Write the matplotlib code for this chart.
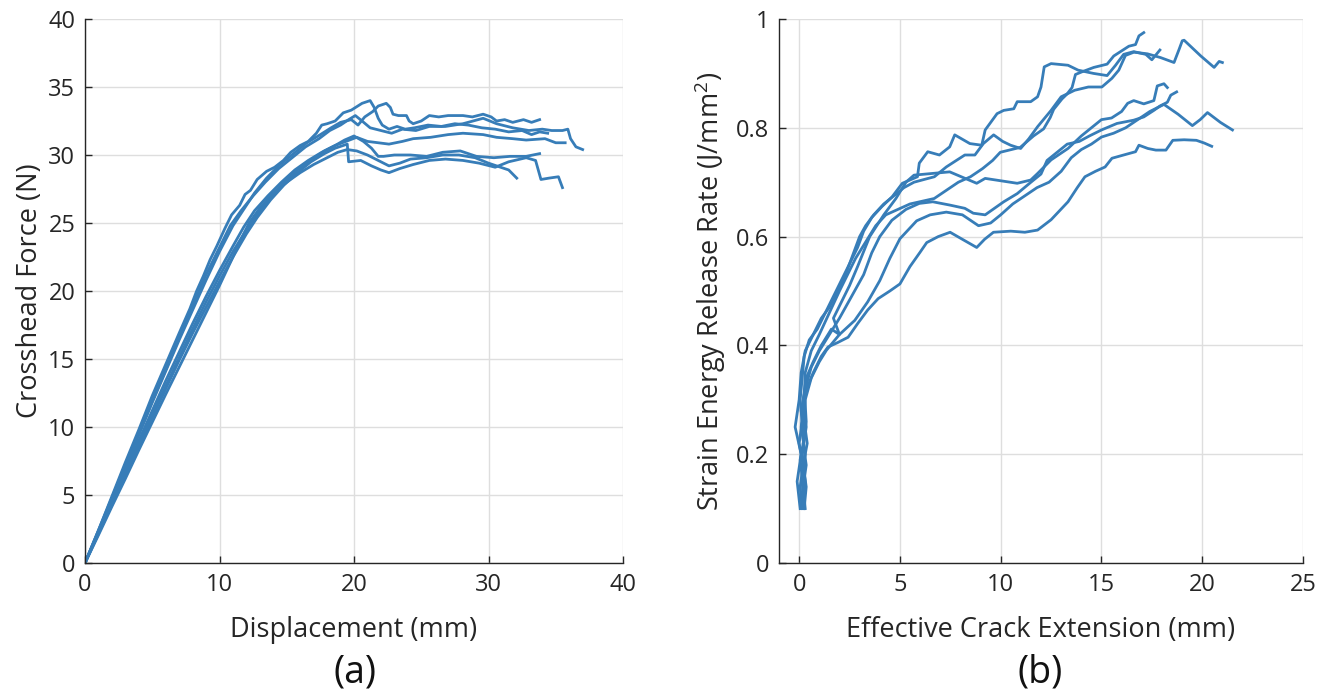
"""
Fracture test results, two panels
  (a) crosshead force vs displacement
  (b) strain energy release rate vs effective crack extension (R-curves)
"""
import matplotlib
matplotlib.use("Agg")
import matplotlib.pyplot as plt
import numpy as np

C_LINE = "#377DB8"
C_GRID = "#dedede"
C_AXIS = "#262626"

# ---- (a) force / displacement, one list of (mm, N) per specimen ----------
fd_s1 = [(0, 0), (1, 2.4), (2, 4.9), (3, 7.4), (4, 9.8), (5, 12.3), (6, 14.6), (7, 16.9),
         (7.8, 18.7), (8.3, 20.0), (8.8, 21.1), (9.3, 22.3), (9.8, 23.3), (10.4, 24.6),
         (10.9, 25.6), (11.5, 26.3), (11.9, 27.1), (12.3, 27.4), (12.8, 28.2), (13.5, 28.8),
         (14.1, 29.1), (14.75, 29.6), (15.3, 30.2), (16.0, 30.7), (16.6, 31.0), (17.2, 31.6),
         (17.6, 32.2), (18.0, 32.3), (18.6, 32.5), (19.2, 33.1), (19.8, 33.3), (20.6, 33.8),
         (21.2, 34.0), (21.5, 33.5), (21.8, 32.7), (22.1, 32.2), (22.6, 31.9), (23.2, 32.1),
         (23.8, 31.9), (24.5, 32.0), (25.5, 32.2), (26.5, 32.1), (27.5, 32.3), (28.5, 32.2),
         (29.5, 32.0), (30.5, 31.9), (31.5, 31.7), (32.5, 31.8), (33.2, 31.5), (33.8, 31.7),
         (34.4, 31.6)]
fd_s2 = [(0, 0), (1, 2.35), (2, 4.7), (3, 7.1), (4, 9.4), (5, 11.8), (6, 14.1), (7, 16.4),
         (8, 18.6), (9, 20.8), (10, 22.9), (11, 24.8), (11.8, 26.0), (12.6, 27.2), (13.5, 28.3),
         (14.5, 29.3), (15.5, 30.1), (16.5, 30.9), (17.5, 31.5), (18.3, 32.0), (19.0, 32.4),
         (19.8, 32.6), (20.3, 32.2), (20.8, 32.8), (21.4, 33.2), (21.8, 33.6), (22.4, 33.8),
         (22.7, 33.5), (22.9, 33.0), (23.3, 32.9), (23.9, 32.9), (24.1, 32.5), (24.4, 32.3),
         (25.0, 32.5), (25.6, 32.9), (26.3, 32.8), (27.0, 32.9), (28.1, 32.9), (28.8, 32.8),
         (29.6, 33.0), (30.2, 32.8), (30.6, 32.5), (31.2, 32.6), (31.8, 32.4), (32.6, 32.6),
         (33.2, 32.4), (33.8, 32.6)]
fd_s3 = [(0, 0), (1, 2.4), (2, 4.8), (3, 7.2), (4, 9.5), (5, 11.9), (6, 14.2), (7, 16.6),
         (8, 18.9), (9, 21.2), (10, 23.2), (10.8, 24.8), (11.6, 25.9), (12.5, 27.0), (13.4, 28.0),
         (14.4, 29.0), (15.4, 29.8), (16.4, 30.6), (17.4, 31.2), (18.2, 31.8), (19.0, 32.2),
         (19.6, 32.6), (20.1, 32.9), (20.6, 32.5), (21.2, 32.0), (22.0, 31.8), (22.8, 31.6),
         (23.6, 31.9), (24.6, 31.8), (25.6, 32.1), (26.8, 32.1), (28.1, 32.3), (29.6, 32.7),
         (30.6, 32.3), (31.8, 32.0), (33.0, 31.8), (34.0, 31.9), (34.7, 31.8), (35.5, 31.8),
         (35.9, 31.9), (36.1, 31.2), (36.5, 30.6), (37.0, 30.4)]
fd_s4 = [(0, 0), (1, 2.25), (2, 4.5), (3, 6.8), (4, 9.0), (5, 11.2), (6, 13.4), (7, 15.5),
         (8, 17.6), (9, 19.6), (10, 21.5), (11, 23.3), (11.8, 24.7), (12.6, 25.9), (13.6, 27.0),
         (14.6, 28.0), (15.6, 28.9), (16.6, 29.6), (17.6, 30.2), (18.6, 30.7), (19.4, 31.0),
         (20.2, 31.3), (21.0, 31.0), (21.8, 30.9), (22.6, 30.8), (23.6, 31.0), (24.4, 31.2),
         (25.7, 31.3), (27.0, 31.5), (28.1, 31.6), (29.6, 31.5), (30.6, 31.3), (31.8, 31.2),
         (32.8, 31.1), (34.2, 31.2), (35.0, 30.9), (35.7, 30.9)]
fd_s5 = [(0, 0), (1, 2.2), (2, 4.4), (3, 6.6), (4, 8.8), (5, 10.9), (6, 13.0), (7, 15.1),
         (8, 17.2), (9, 19.2), (10, 21.1), (11, 22.9), (12, 24.5), (12.8, 25.6), (13.8, 26.9),
         (14.8, 28.0), (15.8, 28.9), (16.8, 29.6), (17.8, 30.3), (18.6, 30.7), (19.3, 31.1),
         (20.0, 31.4), (20.7, 31.0), (21.3, 30.5), (21.8, 29.9), (22.2, 29.9), (23.0, 30.0),
         (24.2, 30.0), (25.4, 29.9), (26.6, 30.2), (27.9, 30.3), (29.1, 29.9), (30.4, 29.8),
         (31.6, 29.9), (32.8, 29.9), (33.8, 30.1)]
fd_s6 = [(0, 0), (1, 2.15), (2, 4.3), (3, 6.45), (4, 8.6), (5, 10.7), (6, 12.8), (7, 14.9),
         (8, 16.9), (9, 18.8), (10, 20.7), (11, 22.5), (12, 24.2), (12.8, 25.4), (13.8, 26.7),
         (14.8, 27.8), (15.8, 28.7), (16.8, 29.5), (17.8, 30.1), (18.6, 30.5), (19.5, 30.8),
         (19.6, 29.5), (20.5, 29.6), (21.3, 29.2), (22.0, 28.9), (22.6, 28.7), (23.4, 29.0),
         (24.4, 29.3), (25.6, 29.6), (26.8, 29.7), (28.1, 29.6), (29.3, 29.4), (30.5, 29.1),
         (31.5, 29.5), (32.8, 29.8), (33.5, 29.6), (33.9, 28.2), (34.5, 28.3), (35.2, 28.4),
         (35.5, 27.6)]
fd_s7 = [(0, 0), (1, 2.05), (2, 4.15), (3, 6.2), (4, 8.3), (5, 10.35), (6, 12.4), (7, 14.4),
         (8, 16.4), (9, 18.4), (10, 20.4), (11, 22.5), (11.6, 23.8), (12.2, 25.0), (13.0, 26.1),
         (14.0, 27.2), (15.0, 28.0), (16.0, 28.7), (17.0, 29.3), (18.0, 29.8), (18.8, 30.2),
         (19.5, 30.4), (20.2, 30.3), (21.0, 30.0), (21.8, 29.6), (22.6, 29.2), (23.4, 29.4),
         (24.2, 29.7), (25.4, 29.8), (26.6, 30.0), (27.8, 30.0), (29.0, 29.8), (30.0, 29.4),
         (30.9, 29.1), (31.5, 28.9), (32.1, 28.3)]
FORCE_CURVES = [fd_s1, fd_s2, fd_s3, fd_s4, fd_s5, fd_s6, fd_s7]

# ---- (b) R-curves, one list of (crack ext. mm, G J/mm^2) per specimen -----
rc_s1 = [(0.15, 0.10), (0.05, 0.14), (0.2, 0.18), (0.0, 0.22), (0.15, 0.26), (0.05, 0.30),
         (0.15, 0.34), (0.25, 0.38), (0.5, 0.41), (0.9, 0.43), (1.3, 0.46), (1.7, 0.49),
         (2.1, 0.52), (2.5, 0.55), (2.9, 0.58), (3.2, 0.61), (3.6, 0.635), (4.1, 0.655),
         (4.61, 0.673), (5.12, 0.698), (5.87, 0.71), (5.96, 0.735), (6.38, 0.756), (6.96, 0.75),
         (7.47, 0.765), (7.72, 0.787), (8.47, 0.771), (9.06, 0.768), (9.23, 0.796), (9.82, 0.826),
         (10.15, 0.832), (10.65, 0.835), (10.82, 0.848), (11.49, 0.848), (11.83, 0.857),
         (12.0, 0.875), (12.16, 0.912), (12.5, 0.918), (13.34, 0.915), (13.84, 0.906),
         (14.6, 0.90), (15.28, 0.896), (15.7, 0.915), (16.1, 0.935), (16.6, 0.94), (17.2, 0.935),
         (17.5, 0.925), (17.9, 0.943)]
rc_s2 = [(0.25, 0.10), (0.15, 0.15), (0.3, 0.20), (0.1, 0.25), (0.25, 0.30), (0.3, 0.35),
         (0.6, 0.39), (1.0, 0.42), (1.5, 0.46), (2.0, 0.50), (2.4, 0.53), (2.8, 0.56),
         (3.3, 0.59), (3.8, 0.62), (4.3, 0.64), (4.9, 0.65), (5.5, 0.66), (6.1, 0.665),
         (6.7, 0.67), (7.3, 0.685), (7.9, 0.70), (8.5, 0.71), (9.1, 0.725), (9.6, 0.74),
         (9.98, 0.755), (10.97, 0.764), (11.63, 0.785), (12.13, 0.798), (12.46, 0.819),
         (12.63, 0.834), (13.04, 0.853), (13.29, 0.862), (13.54, 0.874), (13.71, 0.898),
         (14.04, 0.903), (14.62, 0.911), (14.95, 0.914), (15.28, 0.917), (15.61, 0.932),
         (16.11, 0.944), (16.36, 0.950), (16.69, 0.953), (16.86, 0.969), (17.1, 0.975)]
rc_s3 = [(0.05, 0.10), (-0.1, 0.15), (0.1, 0.20), (-0.2, 0.25), (0.0, 0.30), (0.1, 0.35),
         (0.3, 0.39), (0.7, 0.42), (1.1, 0.45), (1.5, 0.47), (1.9, 0.50), (2.3, 0.53),
         (2.7, 0.57), (3.0, 0.60), (3.3, 0.62), (3.7, 0.64), (4.2, 0.66), (4.7, 0.675),
         (5.2, 0.69), (5.7, 0.70), (6.2, 0.705), (6.71, 0.71), (7.3, 0.728), (7.8, 0.74),
         (8.22, 0.75), (8.72, 0.75), (9.14, 0.771), (9.65, 0.787), (10.1, 0.775), (10.49, 0.768),
         (10.99, 0.762), (11.4, 0.78), (11.83, 0.802), (12.5, 0.832), (13.0, 0.857),
         (13.67, 0.869), (14.35, 0.875), (15.02, 0.875), (15.52, 0.891), (15.86, 0.906),
         (16.19, 0.933), (16.61, 0.939), (17.28, 0.936), (17.94, 0.929), (18.6, 0.92),
         (18.85, 0.944), (19.01, 0.960), (19.1, 0.961), (19.93, 0.932), (20.59, 0.911),
         (20.84, 0.922), (21.0, 0.92)]
rc_s4 = [(0.2, 0.10), (0.3, 0.15), (0.15, 0.20), (0.35, 0.25), (0.2, 0.30), (0.35, 0.34),
         (0.7, 0.37), (1.1, 0.40), (1.6, 0.43), (2.0, 0.42), (1.7, 0.45), (2.1, 0.48),
         (2.5, 0.51), (2.9, 0.545), (3.5, 0.60), (4.2, 0.64), (4.8, 0.67), (5.3, 0.70),
         (5.7, 0.713), (7.47, 0.719), (8.81, 0.698), (9.23, 0.707), (10.82, 0.698),
         (11.49, 0.704), (11.83, 0.716), (12.5, 0.741), (13.34, 0.762), (14.0, 0.785),
         (14.5, 0.80), (15.0, 0.815), (15.5, 0.818), (16.0, 0.83), (16.3, 0.845), (16.6, 0.85),
         (17.1, 0.844), (17.6, 0.85), (17.77, 0.877), (18.1, 0.881), (18.27, 0.874)]
rc_s5 = [(0.1, 0.10), (0.2, 0.14), (0.05, 0.19), (0.25, 0.23), (0.1, 0.28), (0.3, 0.32),
         (0.6, 0.36), (1.0, 0.39), (1.5, 0.42), (2.0, 0.45), (2.6, 0.49), (3.2, 0.53),
         (3.6, 0.57), (4.0, 0.60), (4.6, 0.63), (5.3, 0.65), (5.96, 0.661), (6.63, 0.664),
         (7.47, 0.658), (8.22, 0.652), (8.64, 0.643), (9.23, 0.64), (10.15, 0.664),
         (10.82, 0.679), (11.5, 0.70), (12.0, 0.715), (12.3, 0.74), (12.8, 0.755), (13.3, 0.77),
         (13.9, 0.775), (14.4, 0.785), (15.0, 0.796), (15.77, 0.808), (16.6, 0.814),
         (17.1, 0.82), (17.6, 0.832), (17.9, 0.84), (18.27, 0.847), (18.44, 0.86),
         (18.73, 0.866)]
rc_s6 = [(0.25, 0.10), (0.35, 0.14), (0.2, 0.18), (0.4, 0.22), (0.25, 0.26), (0.3, 0.30),
         (0.6, 0.34), (1.0, 0.37), (1.35, 0.391), (2.0, 0.42), (2.76, 0.446), (3.4, 0.48),
         (4.0, 0.519), (4.5, 0.56), (5.0, 0.596), (5.83, 0.629), (6.5, 0.64), (7.3, 0.645),
         (8.1, 0.64), (8.9, 0.62), (9.5, 0.625), (10.0, 0.64), (10.6, 0.66), (11.2, 0.675),
         (11.8, 0.69), (12.4, 0.70), (13.0, 0.72), (13.5, 0.745), (14.0, 0.76), (14.5, 0.77),
         (15.0, 0.783), (15.6, 0.79), (16.2, 0.80), (16.8, 0.815), (17.4, 0.83), (18.1, 0.843),
         (18.8, 0.825), (19.51, 0.804), (19.9, 0.815), (20.26, 0.828), (20.9, 0.81),
         (21.5, 0.796)]
rc_s7 = [(0.3, 0.10), (0.2, 0.14), (0.35, 0.18), (0.2, 0.22), (0.35, 0.26), (0.27, 0.311),
         (0.7, 0.35), (1.1, 0.38), (1.43, 0.397), (1.9, 0.405), (2.43, 0.415), (2.9, 0.44),
         (3.4, 0.465), (3.92, 0.486), (4.5, 0.50), (5.0, 0.513), (5.5, 0.545), (5.995, 0.571),
         (6.33, 0.589), (6.9, 0.60), (7.49, 0.608), (8.1, 0.595), (8.81, 0.58), (9.2, 0.595),
         (9.64, 0.608), (10.5, 0.61), (11.2, 0.608), (11.83, 0.612), (12.5, 0.631),
         (13.34, 0.664), (13.8, 0.69), (14.18, 0.71), (14.7, 0.72), (15.18, 0.728),
         (15.52, 0.744), (16.1, 0.75), (16.69, 0.756), (16.86, 0.768), (17.3, 0.762),
         (17.7, 0.759), (18.2, 0.759), (18.54, 0.777), (19.1, 0.778), (19.71, 0.777),
         (20.1, 0.772), (20.47, 0.766)]
RCURVES = [rc_s1, rc_s2, rc_s3, rc_s4, rc_s5, rc_s6, rc_s7]

X_TICKS_A = [0, 10, 20, 30, 40]
Y_TICKS_A = [0, 5, 10, 15, 20, 25, 30, 35, 40]
X_TICKS_B = [0, 5, 10, 15, 20, 25]
Y_TICKS_B = [0, 0.2, 0.4, 0.6, 0.8, 1.0]
Y_TICKLABELS_B = ["0", "0.2", "0.4", "0.6", "0.8", "1"]

plt.rcParams["font.family"] = ["Open Sans", "DejaVu Sans"]
plt.rcParams["mathtext.fontset"] = "custom"
plt.rcParams["mathtext.rm"] = "Open Sans"
plt.rcParams["mathtext.it"] = "Open Sans:italic"
plt.rcParams["font.size"] = 17

LABEL_SIZE = 19.5


def style_axes(ax):
    for side in ("top", "right"):
        ax.spines[side].set_visible(False)
    for side in ("left", "bottom"):
        ax.spines[side].set_color(C_AXIS)
        ax.spines[side].set_linewidth(1.0)
    ax.tick_params(direction="in", length=5, width=1.0, color=C_AXIS,
                   labelcolor=C_AXIS, labelsize=17, pad=7)
    ax.grid(True, color=C_GRID, linewidth=1.0)
    ax.set_axisbelow(True)


W, H = 1331, 693
fig = plt.figure(figsize=(W / 100, H / 100), dpi=100)
axA = fig.add_axes([85 / W, 130 / H, 538 / W, 544 / H])
axB = fig.add_axes([779 / W, 130 / H, 524 / W, 544 / H])

# --- Panel A -----------------------------------------------------------------
for curve in FORCE_CURVES:
    xy = np.array(curve)
    axA.plot(xy[:, 0], xy[:, 1], color=C_LINE, linewidth=2.0, solid_joinstyle="round")
axA.set_xlim(0, 40)
axA.set_ylim(0, 40)
axA.set_xticks(X_TICKS_A)
axA.set_yticks(Y_TICKS_A)
axA.set_xlabel("Displacement (mm)", fontsize=LABEL_SIZE, color=C_AXIS, labelpad=14)
axA.set_ylabel("Crosshead Force (N)", fontsize=LABEL_SIZE, color=C_AXIS, labelpad=3)
style_axes(axA)

# --- Panel B -----------------------------------------------------------------
for curve in RCURVES:
    xy = np.array(curve)
    axB.plot(xy[:, 0], xy[:, 1], color=C_LINE, linewidth=2.0, solid_joinstyle="round")
axB.set_xlim(-1, 25)
axB.set_ylim(0, 1)
axB.set_xticks(X_TICKS_B)
axB.set_yticks(Y_TICKS_B)
axB.set_yticklabels(Y_TICKLABELS_B)
axB.set_xlabel("Effective Crack Extension (mm)", fontsize=LABEL_SIZE, color=C_AXIS,
               labelpad=14)
axB.set_ylabel(r"Strain Energy Release Rate (J/mm$^{\mathregular{2}}$)",
               fontsize=LABEL_SIZE, color=C_AXIS, labelpad=6)
style_axes(axB)

fig.text(355 / W, 1 - 672 / H, "(a)", ha="center", va="center", fontsize=27, color="#111111")
fig.text(1040 / W, 1 - 672 / H, "(b)", ha="center", va="center", fontsize=27, color="#111111")

fig.savefig("out.png", dpi=100)
